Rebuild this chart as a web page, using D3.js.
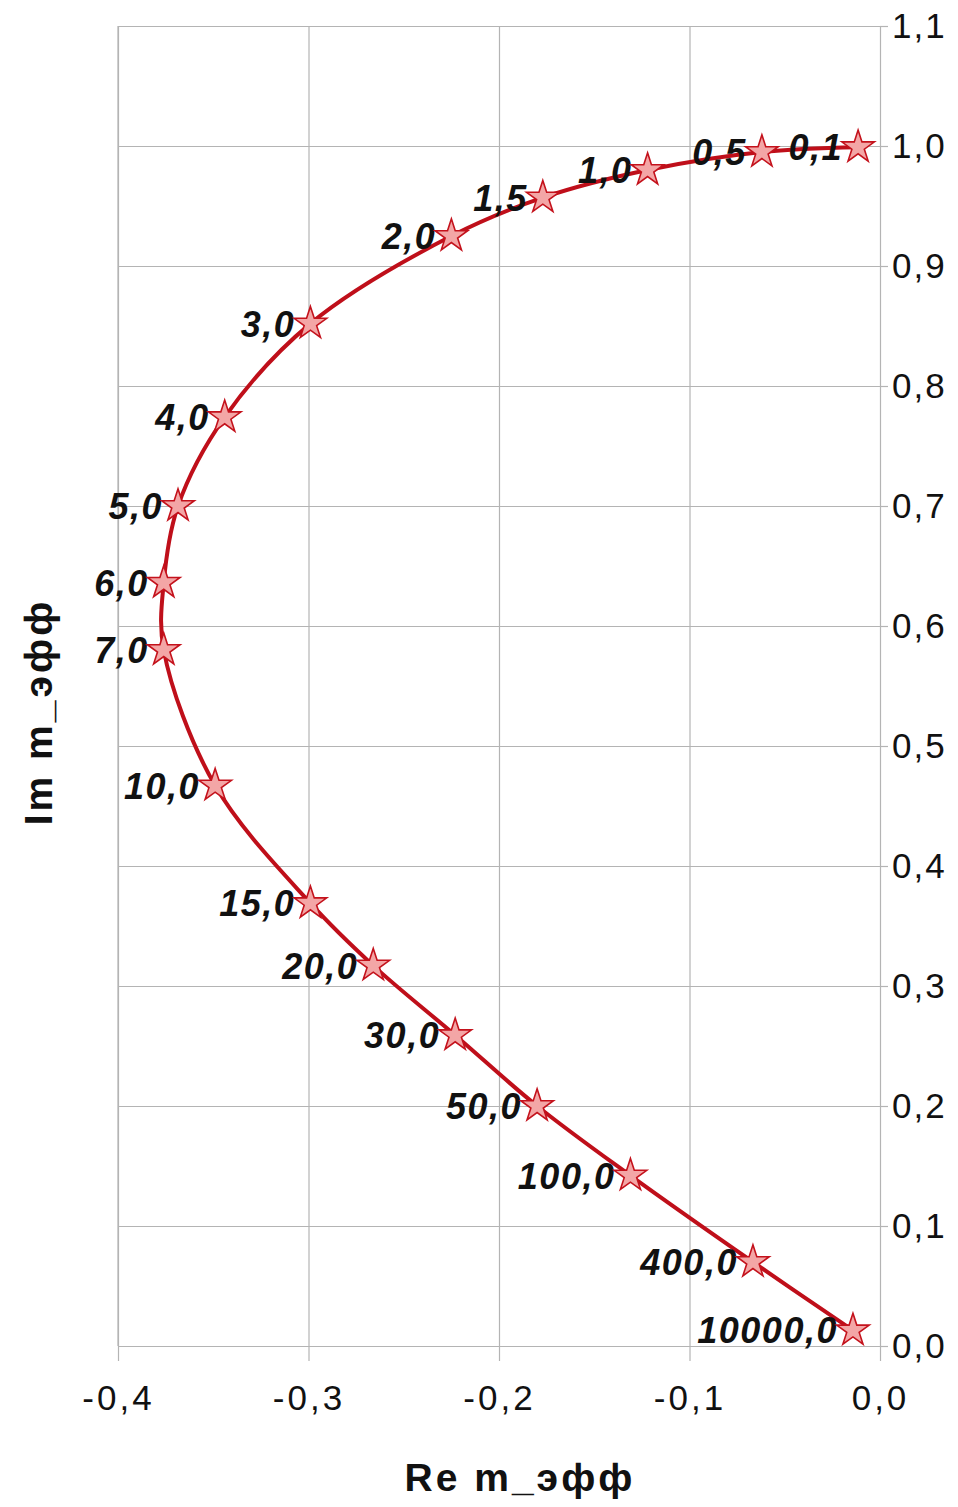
<!DOCTYPE html>
<html>
<head>
<meta charset="utf-8">
<script src="https://cdn.jsdelivr.net/npm/d3@7"></script>
<style>
  body { margin: 0; background: #fff; }
  svg { display: block; }
</style>
</head>
<body>
<div id="content"></div>
<script>
// frequency labels and the effective m values (Re, Im)
let pointLabels = ["0,1", "0,5", "1,0", "1,5", "2,0", "3,0", "4,0", "5,0", "6,0", "7,0",
    "10,0", "15,0", "20,0", "30,0", "50,0", "100,0", "400,0", "10000,0"];
let reValues = [-0.0115, -0.062, -0.122, -0.177, -0.225, -0.299, -0.344, -0.3685, -0.376, -0.376,
    -0.349, -0.299, -0.266, -0.223, -0.180, -0.131, -0.0667, -0.0142];
let imValues = [0.999, 0.995, 0.980, 0.957, 0.925, 0.852, 0.774, 0.700, 0.636, 0.580,
    0.467, 0.369, 0.317, 0.259, 0.200, 0.142, 0.070, 0.013];

let xTicks = [-0.4, -0.3, -0.2, -0.1, 0.0];
let yTicks = [0.0, 0.1, 0.2, 0.3, 0.4, 0.5, 0.6, 0.7, 0.8, 0.9, 1.0, 1.1];

let xTitle = "Re m_эфф";
let yTitle = "Im m_эфф";

const width = 958, height = 1507;
const plot = {left: 118, right: 880, top: 26, bottom: 1346};

let points = pointLabels.map(function(d, i) {
    return {label: d, re: reValues[i], im: imValues[i]};
});

let svg = d3.select("#content")
    .append("svg")
    .attr("width", width)
    .attr("height", height)
    .style("font-family", "'Liberation Sans', Arial, sans-serif");

const x = d3.scaleLinear().domain([-0.4, 0]).range([plot.left, plot.right]);
const y = d3.scaleLinear().domain([0, 1.1]).range([plot.bottom, plot.top]);

let fmt = function(d) { return d3.format(".1f")(d).replace(".", ",").replace("−", "-"); };

// Vertical grid + bottom axis
let xAxis = svg.append("g")
    .attr("transform", "translate(0," + plot.bottom + ")")
    .call(d3.axisBottom(x)
        .tickValues(xTicks)
        .tickSizeInner(-(plot.bottom - plot.top))
        .tickSizeOuter(0)
        .tickFormat(fmt));

xAxis.select(".domain").attr("stroke", "#b4b4b4");
xAxis.selectAll(".tick line").attr("stroke", "#b4b4b4").attr("stroke-width", 1.2);
xAxis.selectAll(".tick")
    .append("line")
    .attr("y1", 0).attr("y2", 15)
    .attr("stroke", "#b4b4b4").attr("stroke-width", 1.2);
xAxis.selectAll(".tick text")
    .attr("y", 0)
    .attr("dy", 64)
    .attr("fill", "#111")
    .style("font-size", "35px")
    .style("letter-spacing", "3px");

// Horizontal grid + right axis
let yAxis = svg.append("g")
    .attr("transform", "translate(" + plot.right + ",0)")
    .call(d3.axisRight(y)
        .tickValues(yTicks)
        .tickSizeInner(-(plot.right - plot.left))
        .tickSizeOuter(0)
        .tickFormat(fmt));

yAxis.select(".domain").attr("stroke", "#b4b4b4");
yAxis.selectAll(".tick line").attr("stroke", "#b4b4b4").attr("stroke-width", 1.2);
yAxis.selectAll(".tick")
    .append("line")
    .attr("x1", 0).attr("x2", 8)
    .attr("stroke", "#b4b4b4").attr("stroke-width", 1.2);
yAxis.selectAll(".tick text")
    .attr("x", 12)
    .attr("fill", "#111")
    .style("font-size", "35px")
    .style("letter-spacing", "2px");

// left border
svg.append("line")
    .attr("x1", plot.left).attr("x2", plot.left)
    .attr("y1", plot.top).attr("y2", plot.bottom)
    .attr("stroke", "#b4b4b4").attr("stroke-width", 1.2);

// curve
let line = d3.line()
    .x(function(d) { return x(d.re); })
    .y(function(d) { return y(d.im); })
    .curve(d3.curveCatmullRom.alpha(0.5));

svg.append("path")
    .datum(points)
    .attr("fill", "none")
    .attr("stroke", "#bf0f1a")
    .attr("stroke-width", 4)
    .attr("d", line);

// point labels
svg.append("g")
    .selectAll("text")
    .data(points)
    .enter()
    .append("text")
    .attr("x", function(d) { return x(d.re) - 15; })
    .attr("y", function(d) { return y(d.im); })
    .attr("dy", "0.36em")
    .attr("text-anchor", "end")
    .style("font-size", "36px")
    .style("font-weight", "bold")
    .style("font-style", "italic")
    .style("letter-spacing", "1.5px")
    .attr("fill", "#111")
    .text(function(d) { return d.label; });

// star markers
let star = d3.symbol().type(d3.symbolStar).size(330);

svg.append("g")
    .selectAll("path")
    .data(points)
    .enter()
    .append("path")
    .attr("d", star)
    .attr("transform", function(d) { return "translate(" + x(d.re) + "," + y(d.im) + ")"; })
    .attr("fill", "#f3a6a6")
    .attr("stroke", "#c4121c")
    .attr("stroke-width", 1.6);

// axis titles
svg.append("text")
    .attr("x", 520)
    .attr("y", 1491)
    .attr("text-anchor", "middle")
    .style("font-size", "39px")
    .style("font-weight", "bold")
    .style("letter-spacing", "3px")
    .attr("fill", "#111")
    .text(xTitle);

svg.append("text")
    .attr("transform", "translate(52,712) rotate(-90)")
    .attr("text-anchor", "middle")
    .style("font-size", "39px")
    .style("font-weight", "bold")
    .style("letter-spacing", "3px")
    .attr("fill", "#111")
    .text(yTitle);
</script>
</body>
</html>
